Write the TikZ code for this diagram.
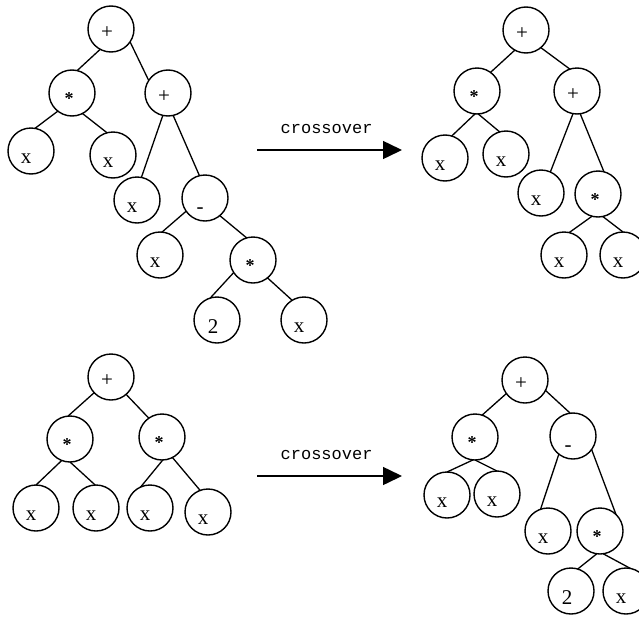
\documentclass[tikz,border=0pt]{standalone}
\usepackage{fontspec}
\setmainfont{Liberation Serif}
\newfontfamily\monofont{Liberation Mono}
\usetikzlibrary{arrows.meta}

\begin{document}
\begin{tikzpicture}[x=1pt,y=-1pt,
  nd/.style={circle, draw, line width=1.4pt, minimum size=46pt, inner sep=0pt, outer sep=0pt},
  lab/.style={font=\fontsize{21}{21}\selectfont, inner sep=0pt},
  xn/.style={nd, label={[lab, shift={(-5,8)}]center:x}},
  tn/.style={nd, label={[lab, shift={(-4,7)}]center:2}},
  pn/.style={nd, label={[lab, shift={(-4,4)}]center:+}},
  sn/.style={nd, label={[lab, font=\bfseries\fontsize{18}{18}\selectfont, shift={(-3,6)}]center:*}},
  mn/.style={nd, label={[lab, shift={(-5,13)}]center:-}},
  edge/.style={line width=1.3pt},
  arr/.style={line width=1.5pt, -{Triangle[length=19pt,width=18pt]}},
  word/.style={font=\monofont\fontsize{17}{17}\selectfont, anchor=base, inner sep=0pt, yshift=17pt}
]
\fill[white] (0,0) rectangle (639,621);
\clip (0,0) rectangle (639,621);
\useasboundingbox (0,0) rectangle (639,621);

% parent tree 1
\node[pn] (t1r) at (111,29) {};
\node[sn] (t1a) at (72,93) {};
\node[pn] (t1b) at (168,93) {};
\node[xn] (t1c) at (31,151) {};
\node[xn] (t1d) at (113,155) {};
\node[xn] (t1e) at (137,200) {};
\node[mn] (t1f) at (205,198) {};
\node[xn] (t1g) at (160,255) {};
\node[sn] (t1h) at (253,260) {};
\node[tn] (t1i) at (217,320) {};
\node[xn] (t1j) at (304,320) {};
\draw[edge] (t1r.242) -- (t1a.77);
\draw[edge] (t1r.326) -- (t1b.147);
\draw[edge] (t1a.232) -- (t1c.80);
\draw[edge] (t1a.297) -- (t1d.105);
\draw[edge] (t1b.257) -- (t1e.79);
\draw[edge] (t1b.283) -- (t1f.104);
\draw[edge] (t1f.215) -- (t1g.85);
\draw[edge] (t1f.310) -- (t1h.106);
\draw[edge] (t1h.213) -- (t1i.107);
\draw[edge] (t1h.309) -- (t1j.121);

% offspring tree 1
\node[pn] (t2r) at (526,30) {};
\node[sn] (t2a) at (477,91) {};
\node[pn] (t2b) at (577,91) {};
\node[xn] (t2c) at (445,158) {};
\node[xn] (t2d) at (506,154) {};
\node[xn] (t2e) at (541,193) {};
\node[sn] (t2f) at (598,194) {};
\node[xn] (t2g) at (564,255) {};
\node[xn] (t2h) at (623,255) {};
\draw[edge] (t2r.241) -- (t2a.54);
\draw[edge] (t2r.310) -- (t2b.108);
\draw[edge] (t2a.265) -- (t2c.73);
\draw[edge] (t2a.273) -- (t2d.106);
\draw[edge] (t2b.260) -- (t2e.66);
\draw[edge] (t2b.278) -- (t2f.75);
\draw[edge] (t2f.255) -- (t2g.77);
\draw[edge] (t2f.282) -- (t2h.90);

% parent tree 2
\node[pn] (t3r) at (111,377) {};
\node[sn] (t3a) at (70,439) {};
\node[sn] (t3b) at (162,437) {};
\node[xn] (t3c) at (36,508) {};
\node[xn] (t3d) at (96,508) {};
\node[xn] (t3e) at (150,508) {};
\node[xn] (t3f) at (208,512) {};
\draw[edge] (t3r.223) -- (t3a.95);
\draw[edge] (t3r.311) -- (t3b.125);
\draw[edge] (t3a.249) -- (t3c.90);
\draw[edge] (t3a.270) -- (t3d.92);
\draw[edge] (t3b.272) -- (t3e.114);
\draw[edge] (t3b.297) -- (t3f.110);

% offspring tree 2
\node[pn] (t4r) at (525,380) {};
\node[sn] (t4a) at (475,437) {};
\node[mn] (t4b) at (573,436) {};
\node[xn] (t4c) at (447,495) {};
\node[xn] (t4d) at (497,494) {};
\node[xn] (t4e) at (548,531) {};
\node[sn] (t4f) at (600,531) {};
\node[tn] (t4g) at (571,591) {};
\node[xn] (t4h) at (626,591) {};
\draw[edge] (t4r.216) -- (t4a.72);
\draw[edge] (t4r.333) -- (t4b.97);
\draw[edge] (t4a.265) -- (t4c.90);
\draw[edge] (t4a.270) -- (t4d.90);
\draw[edge] (t4b.232) -- (t4e.109);
\draw[edge] (t4b.324) -- (t4f.46);
\draw[edge] (t4f.262) -- (t4g.73);
\draw[edge] (t4f.278) -- (t4h.79);

% crossover arrows
\coordinate (a1s) at (257,150);
\coordinate (a1e) at (402,150);
\draw[arr] (a1s) -- node[word, pos=0.48] {crossover} (a1e);
\coordinate (a2s) at (257,476);
\coordinate (a2e) at (402,476);
\draw[arr] (a2s) -- node[word, pos=0.48] {crossover} (a2e);
\end{tikzpicture}
\end{document}
